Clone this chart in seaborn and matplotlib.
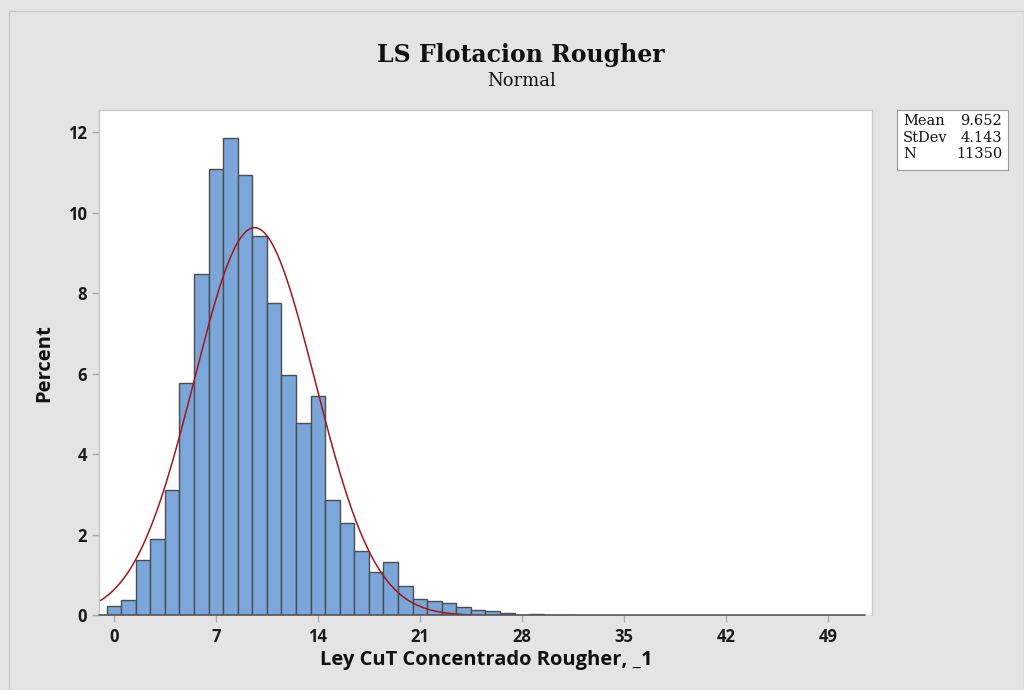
import numpy as np
import pandas as pd
import matplotlib
matplotlib.use("Agg")
import matplotlib.pyplot as plt
import seaborn as sns
from matplotlib.patches import Rectangle

# ---- data ----
bin_centers = list(range(0, 32))
percent = [0.23, 0.39, 1.38, 1.91, 3.12, 5.77, 8.48, 11.09, 11.85, 10.94,
           9.41, 7.76, 5.98, 4.78, 5.46, 2.87, 2.30, 1.59, 1.08, 1.32,
           0.74, 0.41, 0.35, 0.31, 0.22, 0.14, 0.11, 0.06, 0.01, 0.03,
           0.00, 0.02]
mean_val = 9.652
stdev_val = 4.143
n_val = 11350
x_ticks = [0, 7, 14, 21, 28, 35, 42, 49]
y_ticks = [0, 2, 4, 6, 8, 10, 12]
title = "LS Flotacion Rougher"
subtitle = "Normal"
xlabel = "Ley CuT Concentrado Rougher, _1"
ylabel = "Percent"

sns.set_theme(style="white")
plt.rcParams['font.family'] = ['Open Sans', 'DejaVu Sans']

BG = "#e4e4e4"
fig = plt.figure(figsize=(10.24, 6.9), dpi=100, facecolor=BG)
ax = fig.add_axes([0.097, 0.108, 0.755, 0.732])
ax.set_facecolor("white")

df = pd.DataFrame({"x": bin_centers, "pct": percent})
sns.histplot(data=df, x="x", weights="pct", binwidth=1.0, binrange=(-0.5, 31.5),
             stat="count", color="#7aa6d9", edgecolor="#4d4d4d", linewidth=1.0,
             alpha=1.0, ax=ax)

xs = np.linspace(-1.0, 25.0, 400)
ys = 100.0 / (stdev_val * np.sqrt(2 * np.pi)) * np.exp(-0.5 * ((xs - mean_val) / stdev_val) ** 2)
sns.lineplot(x=xs, y=ys, color="#a3161b", linewidth=1.1, ax=ax)

ax.set_xlim(-1.0, 52.06)
ax.set_ylim(0, 12.54)
ax.set_xticks(x_ticks)
ax.set_yticks(y_ticks)
for s in ax.spines.values():
    s.set_color("#c8c8c8")
    s.set_linewidth(1.0)
ax.spines["bottom"].set_visible(False)
ax.plot([-1.0, 51.56], [0, 0], color="#555555", linewidth=1.2, zorder=5, clip_on=False)
ax.tick_params(axis="both", which="both", length=5, width=1, color="#aaaaaa",
               labelsize=12, pad=4, bottom=True, left=True)
for lab in ax.get_xticklabels() + ax.get_yticklabels():
    lab.set_fontweight("bold")
    lab.set_color("#1a1a1a")

ax.set_xlabel(xlabel, fontsize=14.5, fontweight="bold", color="#111111", labelpad=3)
ax.set_ylabel(ylabel, fontsize=14.5, fontweight="bold", color="#111111", labelpad=10)

fig.text(0.509, 0.921, title, ha="center", va="center", family="DejaVu Serif",
         fontsize=17, fontweight="bold", color="#111111")
fig.text(0.509, 0.882, subtitle, ha="center", va="center", family="DejaVu Serif",
         fontsize=13, color="#111111")

# stats box
box = Rectangle((897 / 1024, 1 - 170 / 690), (1008 - 897) / 1024, 60 / 690,
                transform=fig.transFigure, facecolor="white", edgecolor="#999999",
                linewidth=0.8)
fig.patches.append(box)
labels = ["Mean", "StDev", "N"]
values = [f"{mean_val:.3f}", f"{stdev_val:.3f}", f"{n_val}"]
for i, (l, v) in enumerate(zip(labels, values)):
    yy = 1 - (121 + i * 16.5) / 690
    fig.text(903 / 1024, yy, l, ha="left", va="center", family="DejaVu Serif",
             fontsize=10.5, color="#111111")
    fig.text(1002 / 1024, yy, v, ha="right", va="center", family="DejaVu Serif",
             fontsize=10.5, color="#111111")

# outer frame
frame = Rectangle((9 / 1024, 0), 1 - 9 / 1024, 1 - 11 / 690, transform=fig.transFigure,
                  facecolor="none", edgecolor="#c8c8c8", linewidth=1.0)
fig.patches.append(frame)

fig.savefig("out.png", dpi=100, facecolor=BG)
